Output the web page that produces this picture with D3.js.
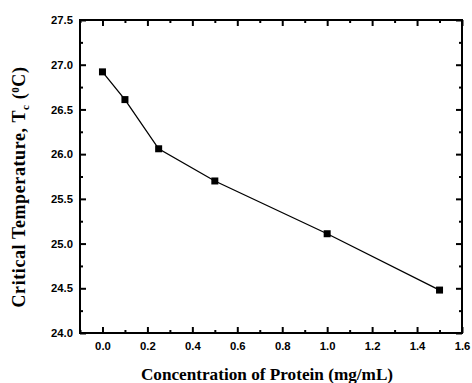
<!DOCTYPE html>
<html>
<head>
<meta charset="utf-8">
<script src="https://cdn.jsdelivr.net/npm/d3@7"></script>
<style>
  html, body { margin: 0; padding: 0; background: #fff; }
  svg { display: block; }
  .tick text { font-family: "Liberation Sans", Arial, sans-serif; font-weight: bold; font-size: 11.3px; fill: #000; }
  .title { font-family: "Liberation Serif", "Times New Roman", serif; font-weight: bold; font-size: 17.2px; fill: #000; }
  .ytitle { font-size: 18px; letter-spacing: 0.6px; }
</style>
</head>
<body>
<svg id="chart" width="472" height="383"></svg>
<script>
// Protein concentration (mg/mL) and measured critical temperature (°C)
const concentration = [0.0, 0.1, 0.25, 0.5, 1.0, 1.5];
const criticalTemp = [26.92, 26.61, 26.06, 25.70, 25.11, 24.48];
const xTickValues = [0.0, 0.2, 0.4, 0.6, 0.8, 1.0, 1.2, 1.4, 1.6];
const yTickValues = [24.0, 24.5, 25.0, 25.5, 26.0, 26.5, 27.0, 27.5];

const svg = d3.select("#chart");
const plotL = 80, plotR = 462, plotT = 20, plotB = 333;

const x = d3.scaleLinear().domain([-0.1, 1.6]).range([plotL, plotR]);
const y = d3.scaleLinear().domain([24.0, 27.5]).range([plotB, plotT]);

const xMinor = d3.range(-0.1, 1.6, 0.1).map(v => +v.toFixed(2)).filter(v => !xTickValues.some(t => Math.abs(t - v) < 1e-6));
const yMinor = d3.range(24.25, 27.5, 0.5).map(v => +v.toFixed(2));

function styleAxis(g) {
  g.select(".domain").remove();
  g.selectAll(".tick line").attr("stroke", "#000").attr("stroke-width", 2);
}

// Major ticks with labels (bottom, left), inward
svg.append("g").attr("transform", `translate(0,${plotB})`)
  .call(d3.axisBottom(x).tickValues(xTickValues).tickFormat(d3.format(".1f")).tickSizeInner(-6).tickPadding(9))
  .call(styleAxis);
svg.append("g").attr("transform", `translate(${plotL},0)`)
  .call(d3.axisLeft(y).tickValues(yTickValues).tickFormat(d3.format(".1f")).tickSizeInner(-6).tickPadding(7))
  .call(styleAxis);
// Mirror major ticks on top and right
svg.append("g").attr("transform", `translate(0,${plotT})`)
  .call(d3.axisTop(x).tickValues(xTickValues).tickFormat("").tickSizeInner(-6))
  .call(styleAxis);
svg.append("g").attr("transform", `translate(${plotR},0)`)
  .call(d3.axisRight(y).tickValues(yTickValues).tickFormat("").tickSizeInner(-6))
  .call(styleAxis);
// Minor ticks on all sides
svg.append("g").attr("transform", `translate(0,${plotB})`)
  .call(d3.axisBottom(x).tickValues(xMinor).tickFormat("").tickSizeInner(-3)).call(styleAxis);
svg.append("g").attr("transform", `translate(0,${plotT})`)
  .call(d3.axisTop(x).tickValues(xMinor).tickFormat("").tickSizeInner(-3)).call(styleAxis);
svg.append("g").attr("transform", `translate(${plotL},0)`)
  .call(d3.axisLeft(y).tickValues(yMinor).tickFormat("").tickSizeInner(-3)).call(styleAxis);
svg.append("g").attr("transform", `translate(${plotR},0)`)
  .call(d3.axisRight(y).tickValues(yMinor).tickFormat("").tickSizeInner(-3)).call(styleAxis);

// Frame
svg.append("rect")
  .attr("x", plotL).attr("y", plotT)
  .attr("width", plotR - plotL).attr("height", plotB - plotT)
  .attr("fill", "none").attr("stroke", "#000").attr("stroke-width", 2);

// Data line and square markers
const pts = concentration.map((c, i) => [c, criticalTemp[i]]);
svg.append("path")
  .datum(pts)
  .attr("fill", "none").attr("stroke", "#000").attr("stroke-width", 1.3)
  .attr("d", d3.line().x(d => x(d[0])).y(d => y(d[1])));
const ms = 7;
svg.selectAll("rect.pt").data(pts).enter().append("rect")
  .attr("class", "pt")
  .attr("x", d => x(d[0]) - ms / 2).attr("y", d => y(d[1]) - ms / 2)
  .attr("width", ms).attr("height", ms).attr("fill", "#000");

// Axis titles
svg.append("text").attr("class", "title")
  .attr("x", 267).attr("y", 380)
  .attr("text-anchor", "middle")
  .text("Concentration of Protein (mg/mL)");

const yt = svg.append("text").attr("class", "title ytitle")
  .attr("transform", `translate(25,187) rotate(-90)`)
  .attr("text-anchor", "middle");
yt.append("tspan").text("Critical Temperature, T");
yt.append("tspan").attr("font-size", "11px").attr("dy", "4").text("c");
yt.append("tspan").attr("dy", "-4").text(" (");
yt.append("tspan").attr("font-size", "11px").attr("dy", "-6").text("0");
yt.append("tspan").attr("dy", "6").text("C)");
</script>
</body>
</html>
